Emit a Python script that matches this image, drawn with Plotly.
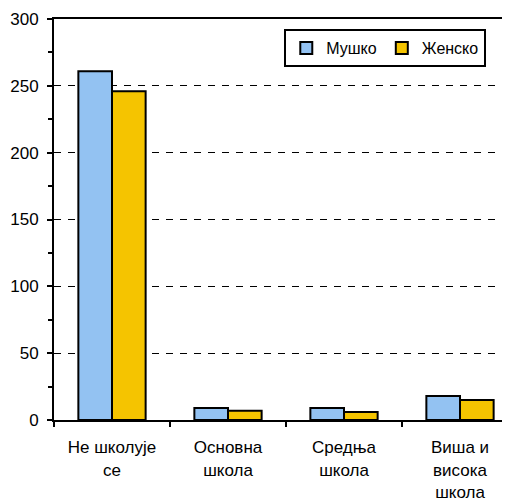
import plotly.graph_objects as go

categories = ["Не школује<br>се", "Основна<br>школа", "Средња<br>школа", "Виша и<br>висока<br>школа"]
male = [261, 9, 9, 18]
female = [246, 7, 6, 15]
series_names = ["Мушко", "Женско"]
y_ticks = [0, 50, 100, 150, 200, 250, 300]
y_minor = [25, 75, 125, 175, 225, 275]

fig = go.Figure()
fig.add_trace(go.Bar(x=categories, y=male, name=series_names[0],
                     marker=dict(color="#93C2F2", line=dict(color="black", width=2))))
fig.add_trace(go.Bar(x=categories, y=female, name=series_names[1],
                     marker=dict(color="#F5C400", line=dict(color="black", width=2))))

fig.update_layout(
    width=502, height=493,
    margin=dict(l=46, r=0, t=11, b=81),
    paper_bgcolor="white", plot_bgcolor="white",
    font=dict(family="Liberation Sans, Arial", size=16, color="black"),
    barmode="group", bargap=0.42, bargroupgap=0,
    showlegend=True,
    legend=dict(orientation="h", x=0.505, y=0.975, xanchor="left", yanchor="top",
                bordercolor="black", borderwidth=2, bgcolor="white",
                font=dict(size=16), itemwidth=30, tracegroupgap=0),
    xaxis=dict(type="category", range=[-0.5, 3.431], showline=True, linecolor="black",
               linewidth=2, mirror=True, ticks="outside", tickson="boundaries",
               ticklen=5, tickwidth=2, tickcolor="black", showgrid=False,
               tickfont=dict(size=17), ticklabelstandoff=11, automargin=False),
    yaxis=dict(range=[0, 300], tickvals=y_ticks, showline=True, linecolor="black",
               linewidth=2, ticks="outside", ticklen=5, tickwidth=2, tickcolor="black",
               showgrid=True, gridcolor="black", griddash="7px,7px", gridwidth=1,
               zeroline=False, tickfont=dict(size=17), automargin=False,
               ticklabelstandoff=5,
               minor=dict(tickvals=y_minor, ticks="outside",
                          ticklen=4, tickwidth=2, tickcolor="black", showgrid=False)),
)
fig.write_html("out.html")
